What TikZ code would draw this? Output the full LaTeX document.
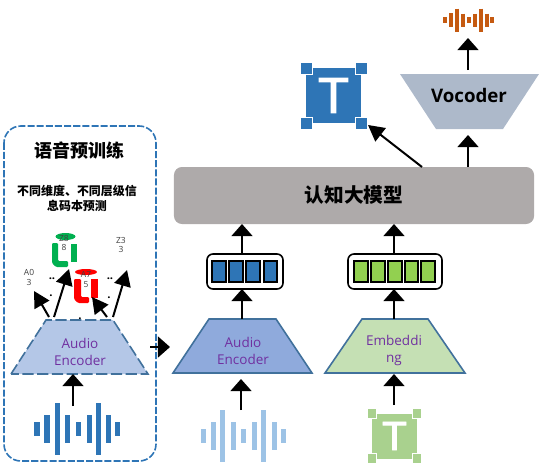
\documentclass[tikz,border=0pt]{standalone}
\usepackage{fontspec}
\setmainfont{Open Sans}
\newfontfamily\cjkfont{Noto Sans CJK SC}
\newfontfamily\tilefont[FakeBold=2]{Liberation Sans}
\usetikzlibrary{arrows.meta}

\definecolor{boxblue}{HTML}{2E75B6}
\definecolor{edgeblue}{HTML}{41719C}
\definecolor{lightwave}{HTML}{9DC3E6}
\definecolor{orangewave}{HTML}{C55A11}
\definecolor{tilegreen}{HTML}{A9D18E}
\definecolor{cellgreen}{HTML}{92D050}
\definecolor{modelgray}{HTML}{AEAAAA}
\definecolor{labelpurple}{HTML}{7030A0}
\definecolor{markgreen}{HTML}{00B050}
\definecolor{encfill}{HTML}{B4C7E7}
\definecolor{encblue}{HTML}{8FAADC}
\definecolor{encgreen}{HTML}{C5E0B4}
\definecolor{vocfill}{HTML}{ADB9CA}

\tikzset{
	arrowline/.style={line width=0.045cm,-{Triangle[width=0.52cm,length=0.3cm]}},
	thinarrow/.style={line width=0.05cm,-{Triangle[width=0.42cm,length=0.4cm]}},
	encoder/.style={draw=edgeblue,line width=0.04cm},
	enctext/.style={text=labelpurple,font=\fontsize{9.6}{12}\selectfont,align=center,inner sep=0pt},
	tokenbox/.style={draw=black,fill=white,line width=0.04cm,rounded corners=0.15cm,minimum height=0.875cm,inner sep=0pt,outer sep=0pt},
	tokencell/.style={draw=black,line width=0.045cm,minimum width=0.34cm,minimum height=0.52cm,inner sep=0pt},
	tilebox/.style={text=white,inner sep=0pt,outer sep=0pt},
	tilecorner/.style={draw=white,line width=0.02cm,inner sep=0pt},
	codetext/.style={text=black!75,font=\fontsize{6}{6.6}\selectfont,align=center,inner sep=0pt},
	dottext/.style={text=black,font=\fontsize{8}{8}\selectfont\bfseries,inner sep=0pt},
	waveline/.style={line width=0.125cm}
}

\begin{document}
\begin{tikzpicture}[x=0.025cm,y=-0.025cm]
	
	\useasboundingbox (0,0) rectangle (539,463);
	
	% pretraining frame
	\draw[boxblue,dash pattern=on 5pt off 1.5pt,line width=0.04cm,rounded corners=0.42cm] (4,126) rectangle (156,461);
	\node[font=\cjkfont\bfseries\fontsize{12.8}{15}\selectfont,inner sep=0pt] (pretitle) at (79,151) {语音预训练};
	\node[font=\cjkfont\bfseries\fontsize{8.5}{10.7}\selectfont,align=center,inner sep=0pt] (pretext) at (77,198.5) {不同维度、不同层级信\\息码本预测};
	
	% green and red code marks
	\fill[markgreen,rounded corners=0.03cm] (52,243) -- (58,243) -- (58,261) -- (68,261) -- (68,267) -- (56,267) -- (52,263) -- cycle;
	\fill[markgreen] (70.5,244) rectangle (77,262);
	\fill[markgreen] (65.5,236.5) ellipse (10 and 3.5);
	\fill[red,rounded corners=0.03cm] (74,279) -- (81,279) -- (81,297) -- (89,297) -- (89,303) -- (78,303) -- (74,299) -- cycle;
	\fill[red] (91,279) rectangle (98,298);
	\fill[red] (86,272) ellipse (11 and 3);
	
	% code labels
	\node[codetext] (codea) at (29,277.5) {A0\\3};
	\node[codetext] (codeb) at (64,243) {Z8\\8};
	\node[codetext] (codec) at (86,279.5) {A7\\5};
	\node[codetext] (coded) at (121,245) {Z3\\3};
	\node[dottext] (dotsa) at (52,279) {..};
	\node[dottext] (dotsb) at (51,296) {.};
	\node[dottext] (dotsc) at (110,279) {..};
	\node[dottext] (dotsd) at (109,298) {.};
	\node[dottext] (dotse) at (80,319) {.};
	
	% encoders
	\draw[encoder,fill=encfill,dash pattern=on 8pt off 2.5pt] (11,374) -- (46,320) -- (113,320) -- (148,374) -- cycle;
	\draw[encoder,fill=encblue] (173,373) -- (209,319) -- (276,319) -- (312,373) -- cycle;
	\draw[encoder,fill=encgreen] (325,373) -- (362,319) -- (428,319) -- (465,373) -- cycle;
	\node[enctext] (enc0text) at (80,352) {Audio\\Encoder};
	\node[enctext] (enc1text) at (243,350.5) {Audio\\Encoder};
	\node[enctext] (enc2text) at (394,350.5) {Embeddi\\ng};
	\coordinate (enc0bot) at (73,374);
	\coordinate (enc1top) at (242,319);
	\coordinate (enc2top) at (394,319);
	\coordinate (enc2bot) at (394,374);
	
	% token bars
	\node[tokenbox,minimum width=1.9cm] (bar1) at (245,271.5) {};
	\node[tokenbox,minimum width=2.35cm] (bar2) at (395,271.5) {};
	\foreach \cx in {219,236,253,270.5}
		\node[tokencell,fill=boxblue] (cellb\cx) at (\cx,271.5) {};
	\foreach \cx in {361,378,395,411.5,428}
		\node[tokencell,fill=cellgreen] (cellg\cx) at (\cx,271.5) {};
	
	% big model and vocoder
	\node[fill=modelgray,rounded corners=0.2cm,minimum width=9cm,minimum height=1.425cm,inner sep=0pt,outer sep=0pt,font=\cjkfont\bfseries\fontsize{14}{16}\selectfont] (model) at (354,195.5) {认知大模型};
	\fill[vocfill] (400,74) -- (539,74) -- (503,129) -- (436,129) -- cycle;
	\node[font=\bfseries\fontsize{13.3}{15}\selectfont,inner sep=0pt] (voctext) at (469,95) {Vocoder};
	
	% waveforms
	\foreach \bx/\bh in {37/7,47/14,57/26,67/14,78/7,89/14,98/26,108/14,117/7}
		\draw[waveline,boxblue] (\bx,429-\bh) -- (\bx,429+\bh);
	\foreach \bx/\bh in {203/7,213/14,222/26,233/14,243/7,254/14,263/26,274/14,283/7}
		\draw[waveline,lightwave] (\bx,436-\bh) -- (\bx,436+\bh);
	\foreach \bx/\bh in {445/3,451/7,457/11.5,463/6.5,469/3,475/6.5,481/11.5,487/6.5,492/3}
		\draw[line width=0.085cm,orangewave] (\bx,20-\bh) -- (\bx,20+\bh);
	
	% text tiles
	\node[tilebox,fill=boxblue,minimum width=1.375cm,minimum height=1.375cm,font=\tilefont\fontsize{36}{36}\selectfont] (tile1) at (333.5,95.5) {T};
	\foreach \corner in {north west,north east,south west,south east}
		\node[tilecorner,fill=boxblue,minimum size=0.3cm] (tile1\corner) at (tile1.\corner) {};
	\node[tilebox,fill=tilegreen,minimum width=1.125cm,minimum height=1.125cm,font=\tilefont\fontsize{29}{29}\selectfont] (tile2) at (394.5,436) {T};
	\foreach \corner in {north west,north east,south west,south east}
		\node[tilecorner,fill=tilegreen,minimum size=0.24cm] (tile2\corner) at (tile2.\corner) {};
	
	% arrow ends
	\coordinate (wave0) at (73,406);
	\coordinate (wave1) at (241,410);
	\coordinate (wave1tip) at (241,379);
	\coordinate (tile2top) at (394,405);
	\coordinate (voctip) at (468,135);
	\coordinate (voctop) at (468,70);
	\coordinate (wave3) at (468,38);
	\coordinate (modelleft) at (422,167);
	\coordinate (tile1tip) at (368,125);
	\coordinate (sidefrom) at (150,347);
	\coordinate (sideto) at (170,347);
	\coordinate (codetaila) at (49,317);
	\coordinate (codetailb) at (54,317);
	\coordinate (codetailc) at (107,317);
	\coordinate (codetaild) at (113,317);
	\coordinate (codetipa) at (34,291);
	\coordinate (codetipb) at (69,269);
	\coordinate (codetipc) at (92,297);
	\coordinate (codetipd) at (127,270);
	
	% arrows
	\draw[arrowline] (wave0) -- (enc0bot);
	\draw[arrowline] (sidefrom) -- (sideto);
	\draw[arrowline] (wave1) -- (wave1tip);
	\draw[arrowline] (tile2top) -- (enc2bot);
	\draw[arrowline] (enc1top) -- (enc1top |- bar1.south);
	\draw[arrowline] (enc2top) -- (enc2top |- bar2.south);
	\draw[arrowline] (enc1top |- bar1.north) -- (enc1top |- model.south);
	\draw[arrowline] (enc2top |- bar2.north) -- (enc2top |- model.south);
	\draw[arrowline] (voctip |- model.north) -- (voctip);
	\draw[arrowline] (voctop) -- (wave3);
	\draw[thinarrow] (modelleft) -- (tile1tip);
	\draw[thinarrow] (codetaila) -- (codetipa);
	\draw[thinarrow] (codetailb) -- (codetipb);
	\draw[thinarrow] (codetailc) -- (codetipc);
	\draw[thinarrow] (codetaild) -- (codetipd);
	
\end{tikzpicture}
\end{document}
